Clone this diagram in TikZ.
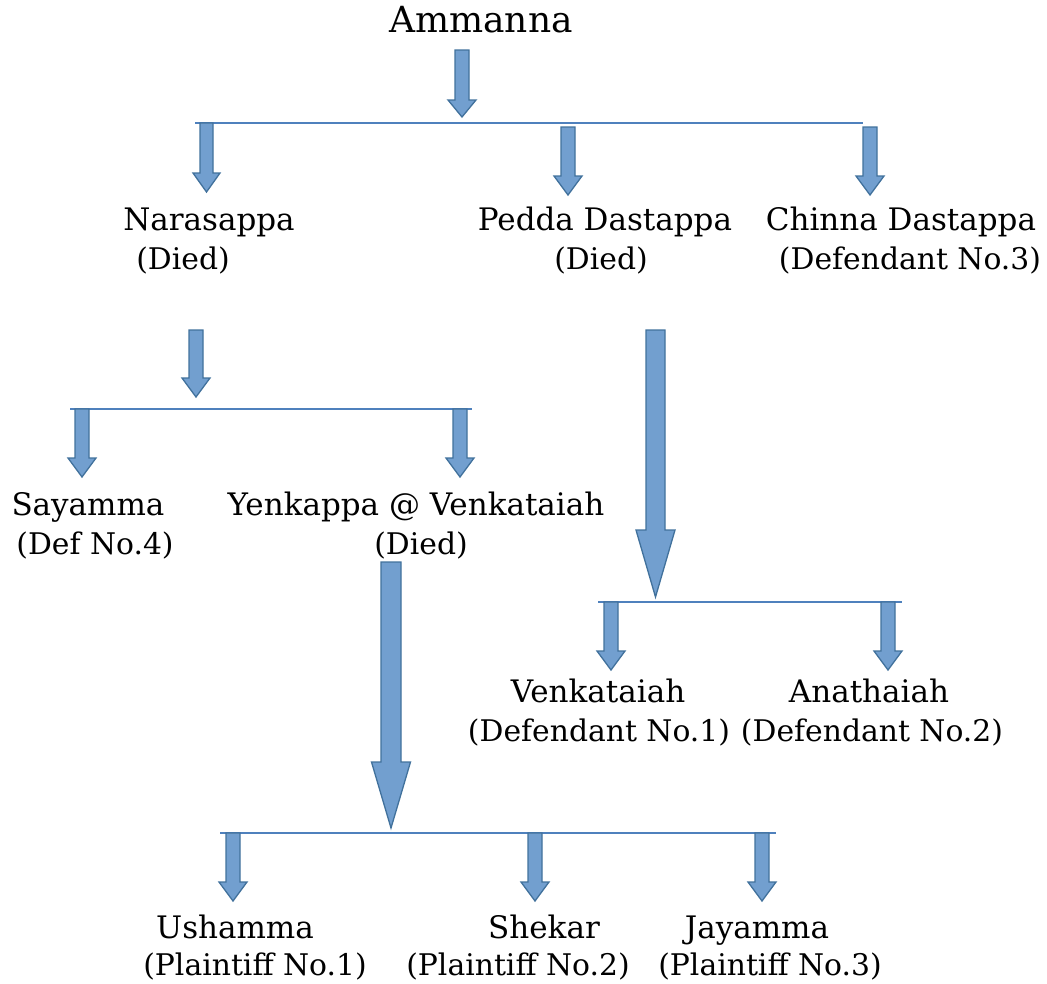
\documentclass[tikz,border=0pt]{standalone}
\usepackage{fontspec}
\setmainfont{DejaVu Serif}
\definecolor{arrfill}{RGB}{114,159,207}
\definecolor{arrdraw}{RGB}{65,113,156}
\definecolor{linecol}{RGB}{79,129,189}
\tikzset{
  lbl/.style={anchor=base,inner sep=0pt,font=\fontsize{31}{36}\selectfont},
  sub/.style={anchor=base,inner sep=0pt,font=\fontsize{29.8}{35}\selectfont},
  title/.style={anchor=base,inner sep=0pt,font=\fontsize{36}{42}\selectfont},
  barline/.style={draw=linecol,line width=1.6pt},
  blockarr/.style={fill=arrfill,draw=arrdraw,line width=1.3pt,line join=miter}
}
% #1 x, #2 top, #3 tip, #4 half shaft, #5 half head, #6 head length
\newcommand{\blockarrow}[6]{%
  \draw[blockarr] (#1-#4,#2) -- (#1+#4,#2) -- (#1+#4,#3-#6) -- (#1+#5,#3-#6)
    -- (#1,#3) -- (#1-#5,#3-#6) -- (#1-#4,#3-#6) -- cycle;}
\begin{document}
\begin{tikzpicture}[x=1pt,y=-1pt]
\useasboundingbox (0,0) rectangle (1047,983);
% texts
\node[title] (amm) at (481,32) {Ammanna};
\node[lbl] (nara) at (209,230) {Narasappa};
\node[sub] (naraD) at (183,269) {(Died)};
\node[lbl] (pedda) at (605,230) {Pedda Dastappa};
\node[sub] (peddaD) at (601,269) {(Died)};
\node[lbl] (chin) at (901,230) {Chinna Dastappa};
\node[sub] (chinD) at (910,269) {(Defendant No.3)};
\node[lbl] (saya) at (88,515) {Sayamma};
\node[sub] (sayaD) at (95,554) {(Def No.4)};
\node[lbl] (yenk) at (416,515) {Yenkappa @ Venkataiah};
\node[sub] (yenkD) at (421,554) {(Died)};
\node[lbl] (venk) at (598,702) {Venkataiah};
\node[sub] (venkD) at (599,741) {(Defendant No.1)};
\node[lbl] (anat) at (869,702) {Anathaiah};
\node[sub] (anatD) at (872,741) {(Defendant No.2)};
\node[lbl] (usha) at (235,938) {Ushamma};
\node[sub] (ushaD) at (255,975) {(Plaintiff No.1)};
\node[lbl] (shek) at (544,938) {Shekar};
\node[sub] (shekD) at (518,975) {(Plaintiff No.2)};
\node[lbl] (jaya) at (757,938) {Jayamma};
\node[sub] (jayaD) at (770,975) {(Plaintiff No.3)};
% bars
\coordinate (b1l) at (195,123); \coordinate (b1r) at (863,123);
\coordinate (b2l) at (70,409);  \coordinate (b2r) at (472,409);
\coordinate (b3l) at (598,602); \coordinate (b3r) at (902,602);
\coordinate (b4l) at (220,833); \coordinate (b4r) at (776,833);
\draw[barline] (b1l) -- (b1r);
\draw[barline] (b2l) -- (b2r);
\draw[barline] (b3l) -- (b3r);
\draw[barline] (b4l) -- (b4r);
% arrows
\blockarrow{462}{50}{117}{7}{14}{17}
\blockarrow{206.5}{123}{192}{6.5}{13.5}{19}
\blockarrow{568}{127}{195}{7}{14}{19}
\blockarrow{870}{127}{195}{7}{14}{19}
\blockarrow{196}{330}{397}{7}{14}{19}
\blockarrow{82}{409}{477}{7}{14}{19}
\blockarrow{460}{409}{477}{7}{14}{19}
\blockarrow{655.5}{330}{597}{9.5}{19.5}{67}
\blockarrow{611}{602}{670}{7}{14}{19}
\blockarrow{888}{602}{670}{7}{14}{19}
\blockarrow{391}{562}{828}{10}{19.5}{66}
\blockarrow{233}{833}{901}{7}{14}{19}
\blockarrow{535}{833}{901}{7}{14}{19}
\blockarrow{762}{833}{901}{7}{14}{19}
\end{tikzpicture}
\end{document}
